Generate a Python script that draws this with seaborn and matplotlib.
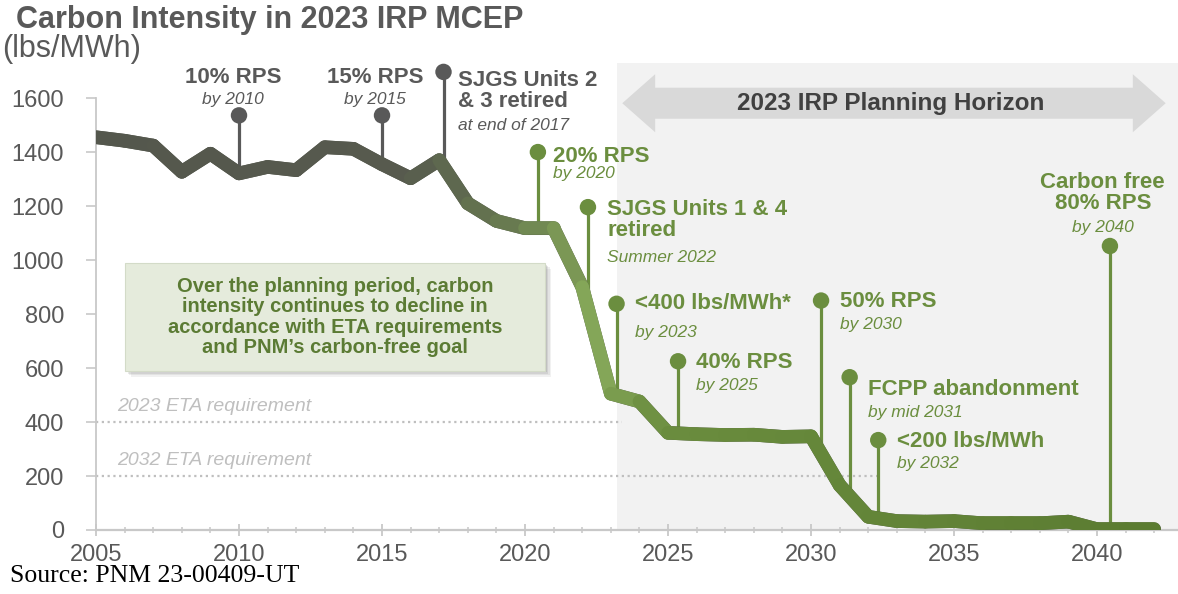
import numpy as np
import matplotlib
matplotlib.use("Agg")
import matplotlib.pyplot as plt
import seaborn as sns
from matplotlib.collections import LineCollection
from matplotlib.patches import Rectangle, FancyArrow
from matplotlib.colors import to_rgb

# ---------------- data ----------------
years = list(range(2005, 2043))
intensity = [1455, 1442, 1424, 1327, 1394, 1321, 1345, 1333, 1418, 1412,
             1355, 1303, 1370, 1210, 1145, 1118, 1118, 900, 505, 476,
             360, 355, 352, 353, 345, 347, 166, 49, 33, 31,
             33, 25, 25, 25, 31, 3, 3, 3]

ann_years = [2010, 2015, 2017.15, 2020.45, 2022.2, 2023.2,
             2025.35, 2030.35, 2031.35, 2032.35, 2040.45]
ann_levels = [1536, 1536, 1697, 1400, 1196, 838, 625, 850, 566, 333, 1052]
ann_titles = ["10% RPS", "15% RPS", "SJGS Units 2\n& 3 retired", "20% RPS",
              "SJGS Units 1 & 4\nretired", "<400 lbs/MWh*", "40% RPS", "50% RPS",
              "FCPP abandonment", "<200 lbs/MWh", "Carbon free\n80% RPS"]
ann_notes = ["by 2010", "by 2015", "at end of 2017", "by 2020", "Summer 2022",
             "by 2023", "by 2025", "by 2030", "by mid 2031", "by 2032", "by 2040"]

eta_levels = [400, 200]
eta_labels = ["2023 ETA requirement", "2032 ETA requirement"]
eta_ends = [2023.4, 2032.35]

horizon_start = 2023.2
box_text = ("Over the planning period, carbon\nintensity continues to decline in\n"
            "accordance with ETA requirements\nand PNM\u2019s carbon-free goal")

# ---------------- layout / style ----------------
GRAY = "#595959"
GREEN = "#6b8e3f"
AXIS = "#c8c8c8"
# (text x, title y, note y, alignment) for each annotation
ann_layout = [
    (2009.8, 1676, 1596, "center"),
    (2014.75, 1676, 1596, "center"),
    (2017.66, 1627, 1499, "left"),
    (2020.98, 1385, 1320, "left"),
    (2022.87, 1147, 1011, "left"),
    (2023.85, 838, 733, "left"),
    (2025.98, 620, 537, "left"),
    (2031.0, 845, 763, "left"),
    (2032.0, 519, 437, "left"),
    (2033.0, 328, 246, "left"),
    (2040.2, 1249, 1122, "center"),
]
ann_colors = [GRAY, GRAY, GRAY] + [GREEN] * 8

grad_years = [2005, 2016, 2019.5, 2022.5, 2025, 2042]
grad_colors = ["#54574d", "#575a4e", "#687a50", "#84a658", "#6a8c3e", "#5b7b31"]

sns.set_theme(style="white")
plt.rcParams["font.family"] = ["Liberation Sans", "DejaVu Sans"]

fig = plt.figure(figsize=(11.78, 5.94), dpi=100)
ax = fig.add_axes([96 / 1178, 64 / 594, 1082 / 1178, 467 / 594])
ax.set_xlim(2005, 2042.83)
ax.set_ylim(0, 1730)

# planning-horizon shading
ax.axvspan(horizon_start, 2042.83, color="#f2f2f2", lw=0, zorder=0)

# double arrow
arr_kw = dict(width=115, head_width=215, head_length=1.15,
              length_includes_head=True, color="#d9d9d9", lw=0, zorder=1)
mid = 2032.9
ax.add_patch(FancyArrow(mid, 1581, 2023.4 - mid, 0, **arr_kw))
ax.add_patch(FancyArrow(mid, 1581, 2042.4 - mid, 0, **arr_kw))
ax.text(2032.8, 1581, "2023 IRP Planning Horizon", ha="center", va="center",
        fontsize=17.5, fontweight="bold", color="#404040", zorder=2)

# ETA requirement lines
for lvl, lab, end in zip(eta_levels, eta_labels, eta_ends):
    ax.hlines(lvl, 2005, end, colors="#bfbfbf", linestyles=(0, (1, 1.6)), lw=1.6, zorder=1)
    ax.text(2005.73, lvl + 56, lab, fontsize=14, fontstyle="italic",
            color="#bfbfbf", va="center", ha="left", zorder=1)

# callout box with soft shadow
bx, by, bw, bh = 2006.02, 589, 14.69, 400
for i, a in enumerate([0.10, 0.13, 0.17, 0.22]):
    off = 4 - i
    ax.add_patch(Rectangle((bx + off * 0.05, by - off * 5.5), bw, bh,
                           facecolor="#7f7f7f", alpha=a, lw=0, zorder=2))
ax.add_patch(Rectangle((bx, by), bw, bh, facecolor="#e5ebdc",
                       edgecolor="#d3dbc8", lw=0.8, zorder=3))
ax.text(bx + bw / 2, by + bh / 2, box_text, ha="center", va="center",
        fontsize=14.5, fontweight="bold", color="#5b7b34", linespacing=1.1, zorder=4)

# stems and dots
stem_base = np.interp(ann_years, years, intensity)
ax.vlines(ann_years, stem_base, ann_levels, colors=ann_colors, lw=2.3, zorder=4)
ax.scatter(ann_years, ann_levels, s=140, c=ann_colors, lw=0, zorder=6, clip_on=False)

# main line: seaborn base, gradient overlay
LW = 9.8
sns.lineplot(x=years, y=intensity, ax=ax, color=grad_colors[0], lw=LW,
             solid_joinstyle="round", solid_capstyle="round", zorder=5)
pts = np.column_stack([years, intensity])
segs = np.stack([pts[:-1], pts[1:]], axis=1)
mids = (np.array(years[:-1]) + np.array(years[1:])) / 2
rgb = np.array([to_rgb(c) for c in grad_colors])
seg_cols = np.column_stack([np.interp(mids, grad_years, rgb[:, k]) for k in range(3)])
ax.add_collection(LineCollection(segs, colors=seg_cols, linewidths=LW,
                                 capstyle="round", joinstyle="round", zorder=5))

# annotation labels
for (tx, ty, ny, ha), title, note, col in zip(ann_layout, ann_titles, ann_notes, ann_colors):
    ax.text(tx, ty, title, ha=ha, va="center", fontsize=16, fontweight="bold",
            color=col, linespacing=1.0, zorder=7)
    ax.text(tx, ny, note, ha=ha, va="center", fontsize=12.5, fontstyle="italic",
            color=col, zorder=7)

# axes styling
sns.despine(ax=ax)
ax.spines["left"].set_bounds(0, 1600)
ax.spines["left"].set_color(AXIS)
ax.spines["left"].set_linewidth(1.3)
ax.spines["bottom"].set_color(AXIS)
ax.spines["bottom"].set_linewidth(1.6)
ax.set_yticks(range(0, 1601, 200))
ax.set_xticks(range(2005, 2041, 5))
ax.set_xticks(years, minor=True)
ax.tick_params(axis="y", direction="out", length=7, width=1.2, color=AXIS,
               labelsize=17, labelcolor=GRAY, pad=16)
ax.tick_params(axis="x", which="major", direction="inout", length=8, width=1.3,
               color=AXIS, labelsize=17, labelcolor=GRAY, pad=6)
ax.tick_params(axis="x", which="minor", direction="inout", length=5, width=1.1,
               color=AXIS)
ax.tick_params(left=True, bottom=True)
ax.tick_params(axis="x", which="minor", bottom=True)

# titles and source
fig.text(16 / 1178, 1 - 28 / 594, "Carbon Intensity in 2023 IRP MCEP", fontsize=22,
         fontweight="bold", color=GRAY, va="baseline", ha="left")
fig.text(2 / 1178, 1 - 57 / 594, "(lbs/MWh)", fontsize=22, color=GRAY,
         va="baseline", ha="left")
fig.text(10 / 1178, 1 - 582 / 594, "Source: PNM 23-00409-UT", fontsize=18.5,
         family="Liberation Serif", color="black", va="baseline", ha="left")

fig.savefig("out.png", dpi=100)
